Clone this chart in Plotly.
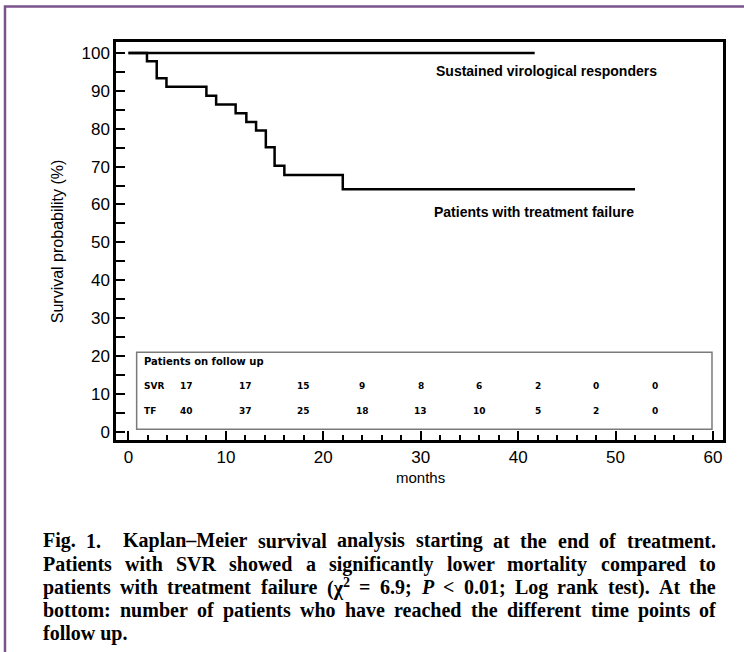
import os
import re
import struct

import plotly.graph_objects as go

# Kaplan-Meier curves (months, survival %)
months_tf = [0, 1.9, 2.9, 3.9, 8.0, 9.0, 11.0, 12.1, 13.1, 14.1, 15.0, 16.0, 22.0, 52.0]
surv_tf = [100, 97.8, 93.3, 91.1, 88.7, 86.4, 84.1, 81.8, 79.5, 75.1, 70.2, 67.8, 64.0, 64.0]
months_svr = [0, 41.7]
surv_svr = [100, 100]

# Patients on follow up
risk_times = [6, 12, 18, 24, 30, 36, 42, 48, 54]
risk_svr = [17, 17, 15, 9, 8, 6, 2, 0, 0]
risk_tf = [40, 37, 25, 18, 13, 10, 5, 2, 0]

caption_lines = [
    "Fig. 1.  Kaplan–Meier survival analysis starting at the end of treatment.",
    "Patients with SVR showed a significantly lower mortality compared to",
    "patients with treatment failure (χ<sup>2</sup> = 6.9; <i>P</i> &lt; 0.01; Log rank test). At the",
    "bottom: number of patients who have reached the different time points of",
    "follow up.",
]

W, H = 744, 652
L, R, T, B = 116, 723, 41.5, 440  # plot area in pixels
CAP_LEFT, CAP_RIGHT, CAP_SIZE = 42, 715, 20


def px(x):
    return (x - L) / (R - L)


def py(y):
    return (B - y) / (B - T)


SANS = "Liberation Sans, Arial, sans-serif"
SERIF = "Liberation Serif, Times New Roman, serif"


# ---- glyph advance widths read straight from the TrueType file (for justified text)
def find_font(name):
    for root in ["/usr/share/fonts", "/usr/local/share/fonts",
                 os.path.expanduser("~/.fonts"), os.path.expanduser("~/.local/share/fonts")]:
        if not os.path.isdir(root):
            continue
        for dirpath, _, files in os.walk(root):
            if name in files:
                return os.path.join(dirpath, name)
    return None


def load_width_fn(path):
    data = open(path, "rb").read()
    num_tables = struct.unpack(">H", data[4:6])[0]
    tables = {}
    for i in range(num_tables):
        rec = data[12 + 16 * i: 28 + 16 * i]
        tables[rec[:4].decode("latin-1")] = struct.unpack(">I", rec[8:12])[0]
    upem = struct.unpack(">H", data[tables["head"] + 18: tables["head"] + 20])[0]
    nhm = struct.unpack(">H", data[tables["hhea"] + 34: tables["hhea"] + 36])[0]
    hm = tables["hmtx"]
    adv = [struct.unpack(">H", data[hm + 4 * i: hm + 4 * i + 2])[0] for i in range(nhm)]
    cm = tables["cmap"]
    n = struct.unpack(">H", data[cm + 2: cm + 4])[0]
    sub = None
    for i in range(n):
        pid, eid, off = struct.unpack(">HHI", data[cm + 4 + 8 * i: cm + 12 + 8 * i])
        if pid == 3 and eid == 1:
            sub = cm + off
    segx2 = struct.unpack(">H", data[sub + 6: sub + 8])[0]
    seg = segx2 // 2
    ends = struct.unpack(">%dH" % seg, data[sub + 14: sub + 14 + segx2])
    s_off = sub + 16 + segx2
    starts = struct.unpack(">%dH" % seg, data[s_off: s_off + segx2])
    d_off = s_off + segx2
    deltas = struct.unpack(">%dh" % seg, data[d_off: d_off + segx2])
    r_off = d_off + segx2
    ranges = struct.unpack(">%dH" % seg, data[r_off: r_off + segx2])

    def glyph(code):
        for i in range(seg):
            if starts[i] <= code <= ends[i]:
                if ranges[i] == 0:
                    return (code + deltas[i]) & 0xFFFF
                addr = r_off + 2 * i + ranges[i] + 2 * (code - starts[i])
                g = struct.unpack(">H", data[addr: addr + 2])[0]
                return (g + deltas[i]) & 0xFFFF if g else 0
        return 0

    def width(text, size):
        return sum(adv[min(glyph(ord(c)), nhm - 1)] for c in text) * size / upem

    return width


_font_path = find_font("LiberationSerif-Bold.ttf")
if _font_path:
    try:
        text_width = load_width_fn(_font_path)
    except Exception:
        text_width = lambda s, size: len(s) * 0.5 * size
else:
    text_width = lambda s, size: len(s) * 0.5 * size


def html_width(html, size):
    total = 0.0
    for part in re.split(r"(<sup>.*?</sup>)", html):
        if part.startswith("<sup>"):
            inner = re.sub(r"<[^>]+>", "", part)
            total += text_width(inner, size * 0.7)
        else:
            plain = re.sub(r"<[^>]+>", "", part).replace("&lt;", "<").replace("&gt;", ">")
            total += text_width(plain, size)
    return total


fig = go.Figure()
fig.add_trace(go.Scatter(x=months_svr, y=surv_svr, mode="lines",
                         line=dict(color="black", width=2.5), hoverinfo="skip"))
fig.add_trace(go.Scatter(x=months_tf, y=surv_tf, mode="lines", line_shape="hv",
                         line=dict(color="black", width=2.5), hoverinfo="skip"))

axis_common = dict(showline=True, linecolor="black", linewidth=2.5, mirror=True,
                   ticks="inside", tickcolor="black", tickwidth=2, ticklen=9,
                   showgrid=False, zeroline=False,
                   tickfont=dict(family=SANS, size=17, color="black"))

fig.update_xaxes(range=[-1.28, 61.03], tick0=0, dtick=10,
                 minor=dict(ticks="inside", dtick=2, tick0=0, ticklen=5,
                            tickwidth=1.5, tickcolor="black", showgrid=False),
                 **axis_common)
fig.update_yaxes(range=[-2.2, 102.9], tick0=0, dtick=10,
                 minor=dict(ticks="inside", dtick=5, tick0=0, ticklen=9,
                            tickwidth=2, tickcolor="black", showgrid=False),
                 ticklabelstandoff=0,
                 **axis_common)

annotations = []
# curve labels
annotations.append(dict(x=42.9, y=95.2, xref="x", yref="y", showarrow=False,
                        text="<b>Sustained virological responders</b>",
                        font=dict(family=SANS, size=14, color="black")))
annotations.append(dict(x=41.6, y=58.1, xref="x", yref="y", showarrow=False,
                        text="<b>Patients with treatment failure</b>",
                        font=dict(family=SANS, size=14, color="black")))

# follow-up table
small = dict(family="DejaVu Sans, sans-serif", size=9, color="black")
head = dict(family="DejaVu Sans, sans-serif", size=10, color="black")
annotations.append(dict(x=1.36, y=18.6, xref="x", yref="y", showarrow=False,
                        xanchor="left", text="<b>Patients on follow up</b>", font=head))
annotations.append(dict(x=1.36, y=12.05, xref="x", yref="y", showarrow=False,
                        xanchor="left", text="<b>SVR</b>", font=small))
annotations.append(dict(x=1.36, y=5.5, xref="x", yref="y", showarrow=False,
                        xanchor="left", text="<b>TF</b>", font=small))
for t, a, b in zip(risk_times, risk_svr, risk_tf):
    annotations.append(dict(x=t, y=12.05, xref="x", yref="y", showarrow=False,
                            text=f"<b>{a}</b>", font=small))
    annotations.append(dict(x=t, y=5.5, xref="x", yref="y", showarrow=False,
                            text=f"<b>{b}</b>", font=small))

# axis titles
annotations.append(dict(x=px(420), y=py(478), xref="paper", yref="paper",
                        xanchor="center", yanchor="middle",
                        showarrow=False, text="months",
                        font=dict(family=SANS, size=15, color="black")))
annotations.append(dict(x=px(57), y=py(241), xref="paper", yref="paper",
                        xanchor="center", yanchor="middle",
                        showarrow=False, text="Survival probability (%)", textangle=-90,
                        font=dict(family=SANS, size=16, color="black")))

# caption: justified lines, last line set ragged
cap_font = dict(family=SERIF, size=CAP_SIZE, color="black")
for i, line in enumerate(caption_lines):
    y_pos = py(541 + i * 23.2)
    if i == len(caption_lines) - 1:
        annotations.append(dict(x=px(CAP_LEFT), y=y_pos, xref="paper", yref="paper",
                                showarrow=False, xanchor="left", yanchor="middle",
                                text=f"<b>{line}</b>", font=cap_font, borderpad=0))
        continue
    words = line.split(" ")
    # an empty entry marks a double space, which counts as a wider gap
    gap_weights = []
    tokens = []
    for w in words:
        if w == "":
            if gap_weights:
                gap_weights[-1] += 1
            continue
        tokens.append(w)
        gap_weights.append(1)
    gap_weights = gap_weights[:-1]
    widths = [html_width(w, CAP_SIZE) for w in tokens]
    free = (CAP_RIGHT - CAP_LEFT) - sum(widths)
    unit = free / sum(gap_weights)
    x_cur = CAP_LEFT
    for k, (w, wd) in enumerate(zip(tokens, widths)):
        annotations.append(dict(x=px(x_cur), y=y_pos, xref="paper", yref="paper",
                                showarrow=False, xanchor="left", yanchor="middle",
                                text=f"<b>{w}</b>", font=cap_font, borderpad=0))
        if k < len(gap_weights):
            x_cur += wd + unit * gap_weights[k]

shapes = [
    # follow-up table frame
    dict(type="rect", xref="x", yref="y", x0=0.84, x1=59.9, y0=0.66, y1=21.0,
         line=dict(color="#7a7a7a", width=1.5), layer="below"),
    # figure border (left and top edges visible)
    dict(type="rect", xref="paper", yref="paper", x0=px(5), x1=px(760),
         y0=py(670), y1=py(6), line=dict(color="#7b538c", width=2.5)),
]

fig.update_layout(width=W, height=H, autosize=False,
                  margin=dict(l=L, r=W - R, t=T, b=H - B, pad=0),
                  paper_bgcolor="white", plot_bgcolor="white",
                  showlegend=False, annotations=annotations, shapes=shapes)

fig.write_html("out.html")
